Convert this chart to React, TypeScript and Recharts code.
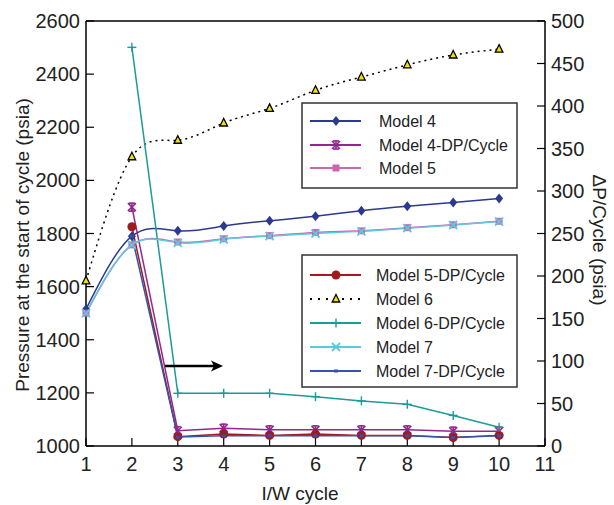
import React from 'react';
import { LineChart, Line, XAxis, YAxis, ReferenceLine } from 'recharts';

const cycles = [1, 2, 3, 4, 5, 6, 7, 8, 9, 10];
const model4 = [1515, 1790, 1810, 1828, 1848, 1865, 1886, 1903, 1917, 1932];
const model4DP = [null, 281, 18, 21, 19, 19, 19, 19, 17.5, 17.5];
const model5 = [1500, 1757, 1768, 1780, 1792, 1804, 1810, 1822, 1833, 1846];
const model5DP = [null, 258, 11, 14, 12.5, 14, 12.5, 12.5, 10, 12.5];
const model6 = [1622, 2089, 2151, 2216, 2271, 2339, 2389, 2435, 2472, 2494];
const model6DP = [null, 469, 62, 62, 62, 58, 53, 49, 36, 22];
const model7 = [1500, 1757, 1765, 1778, 1790, 1800, 1808, 1820, 1832, 1845];
const model7DP = [null, 247, 10.5, 12, 12, 12, 12, 12, 10, 12];

const xTicks = [1, 2, 3, 4, 5, 6, 7, 8, 9, 10, 11];
const leftTicks = [1000, 1200, 1400, 1600, 1800, 2000, 2200, 2400, 2600];
const rightTicks = [0, 50, 100, 150, 200, 250, 300, 350, 400, 450, 500];

type Marker = 'diamond' | 'asterisk' | 'square' | 'circle' | 'triangle' | 'plus' | 'x' | 'dash';
type SeriesDef = {
  key: string;
  name: string;
  values: (number | null)[];
  axis: 'left' | 'right';
  color: string;
  marker: Marker;
  dash?: string;
  curve: 'natural' | 'linear';
};

const series: SeriesDef[] = [
  { key: 'm4', name: 'Model 4', values: model4, axis: 'left', color: '#2b3a8f', marker: 'diamond', curve: 'natural' },
  { key: 'm4dp', name: 'Model 4-DP/Cycle', values: model4DP, axis: 'right', color: '#93278f', marker: 'asterisk', curve: 'linear' },
  { key: 'm5', name: 'Model 5', values: model5, axis: 'left', color: '#cc66b0', marker: 'square', curve: 'natural' },
  { key: 'm5dp', name: 'Model 5-DP/Cycle', values: model5DP, axis: 'right', color: '#9e1b20', marker: 'circle', curve: 'linear' },
  { key: 'm6', name: 'Model 6', values: model6, axis: 'left', color: '#000000', marker: 'triangle', dash: '2 4', curve: 'natural' },
  { key: 'm6dp', name: 'Model 6-DP/Cycle', values: model6DP, axis: 'right', color: '#1a9c98', marker: 'plus', curve: 'linear' },
  { key: 'm7', name: 'Model 7', values: model7, axis: 'left', color: '#5ec8de', marker: 'x', curve: 'natural' },
  { key: 'm7dp', name: 'Model 7-DP/Cycle', values: model7DP, axis: 'right', color: '#3553a8', marker: 'dash', curve: 'linear' },
];

const legend1 = ['m4', 'm4dp', 'm5'];
const legend2 = ['m5dp', 'm6', 'm6dp', 'm7', 'm7dp'];

const data = cycles.map((c, i) => {
  const row: Record<string, number | null> = { cycle: c };
  series.forEach((s) => {
    row[s.key] = s.values[i];
  });
  return row;
});

function renderMarker(marker: Marker, cx: number, cy: number, color: string) {
  switch (marker) {
    case 'diamond':
      return <polygon points={`${cx},${cy - 5} ${cx + 4},${cy} ${cx},${cy + 5} ${cx - 4},${cy}`} fill={color} />;
    case 'asterisk':
      return (
        <g stroke={color} strokeWidth={1.6}>
          <line x1={cx - 4} y1={cy - 4} x2={cx + 4} y2={cy + 4} />
          <line x1={cx - 4} y1={cy + 4} x2={cx + 4} y2={cy - 4} />
          <line x1={cx} y1={cy - 4.5} x2={cx} y2={cy + 4.5} />
          <line x1={cx - 3} y1={cy - 4} x2={cx + 3} y2={cy - 4} />
          <line x1={cx - 3} y1={cy + 4} x2={cx + 3} y2={cy + 4} />
        </g>
      );
    case 'square':
      return <rect x={cx - 3.5} y={cy - 3.5} width={7} height={7} fill={color} />;
    case 'circle':
      return <circle cx={cx} cy={cy} r={4.5} fill={color} />;
    case 'triangle':
      return (
        <polygon
          points={`${cx},${cy - 4.5} ${cx + 3.8},${cy + 3} ${cx - 3.8},${cy + 3}`}
          fill="#f2e200"
          stroke="#000"
          strokeWidth={1.3}
        />
      );
    case 'plus':
      return (
        <g stroke={color} strokeWidth={1.4}>
          <line x1={cx - 4.5} y1={cy} x2={cx + 4.5} y2={cy} />
          <line x1={cx} y1={cy - 4.5} x2={cx} y2={cy + 4.5} />
        </g>
      );
    case 'x':
      return (
        <g stroke={color} strokeWidth={1.8}>
          <line x1={cx - 4} y1={cy - 4} x2={cx + 4} y2={cy + 4} />
          <line x1={cx - 4} y1={cy + 4} x2={cx + 4} y2={cy - 4} />
        </g>
      );
    case 'dash':
      return <rect x={cx - 2} y={cy - 1.5} width={4} height={3} fill={color} />;
  }
  return null;
}

const makeDot = (s: SeriesDef) => (p: any) => {
  const { cx, cy, value, index } = p;
  if (cx == null || cy == null || value == null || (Array.isArray(value) && value[1] == null)) {
    return <g key={`${s.key}-${index}`} />;
  }
  return <g key={`${s.key}-${index}`}>{renderMarker(s.marker, cx, cy, s.color)}</g>;
};

const FONT = '"Liberation Sans", Arial, Helvetica, sans-serif';

function LegendBox({ x, y, w, h, keys, rowYs, textX }: { x: number; y: number; w: number; h: number; keys: string[]; rowYs: number[]; textX: number }) {
  return (
    <g>
      <rect x={x} y={y} width={w} height={h} fill="#fff" stroke="#333" strokeWidth={1.5} />
      {keys.map((k, i) => {
        const s = series.find((d) => d.key === k)!;
        const ry = rowYs[i];
        return (
          <g key={k}>
            <line x1={x + 8} y1={ry} x2={x + 59} y2={ry} stroke={s.color} strokeWidth={2} strokeDasharray={s.dash ? '2 6' : undefined} />
            {renderMarker(s.marker, x + 34, ry, s.color)}
            <text x={textX} y={ry} dy="0.35em" fontSize={16} fill="#222" fontFamily={FONT}>
              {s.name}
            </text>
          </g>
        );
      })}
    </g>
  );
}

export default function App() {
  return (
    <div style={{ position: 'absolute', left: 0, top: 0, width: 614, height: 505, background: '#fff', fontFamily: FONT }}>
      <LineChart width={614} height={505} data={data} margin={{ top: 21, right: 14, bottom: 19, left: 26 }}>
        <XAxis
          dataKey="cycle"
          type="number"
          domain={[1, 11]}
          ticks={xTicks}
          height={40}
          tickSize={-8}
          tickMargin={19}
          axisLine={{ stroke: '#000', strokeWidth: 1.5 }}
          tickLine={{ stroke: '#000', strokeWidth: 1.2 }}
          tick={{ fill: '#222', fontSize: 20, fontFamily: FONT }}
          interval={0}
        />
        <YAxis
          yAxisId="left"
          orientation="left"
          domain={[1000, 2600]}
          ticks={leftTicks}
          width={60}
          tickSize={-8}
          tickMargin={14}
          axisLine={{ stroke: '#000', strokeWidth: 1.5 }}
          tickLine={{ stroke: '#000', strokeWidth: 1.2 }}
          tick={{ fill: '#222', fontSize: 20, fontFamily: FONT }}
          interval={0}
        />
        <YAxis
          yAxisId="right"
          orientation="right"
          domain={[0, 500]}
          ticks={rightTicks}
          width={55}
          tickSize={-8}
          tickMargin={14}
          axisLine={{ stroke: '#000', strokeWidth: 1.5 }}
          tickLine={{ stroke: '#000', strokeWidth: 1.2 }}
          tick={{ fill: '#222', fontSize: 20, fontFamily: FONT, textAnchor: 'start' }}
          interval={0}
        />
        <ReferenceLine yAxisId="left" y={2600} stroke="#000" strokeWidth={1.5} />
        {series.map((s) => (
          <Line
            key={s.key}
            yAxisId={s.axis}
            dataKey={s.key}
            name={s.name}
            type={s.curve}
            stroke={s.color}
            strokeWidth={1.5}
            strokeDasharray={s.dash}
            dot={makeDot(s)}
            activeDot={false}
            isAnimationActive={false}
          />
        ))}
      </LineChart>
      <svg width={614} height={505} style={{ position: 'absolute', left: 0, top: 0, pointerEvents: 'none' }}>
        <LegendBox x={302} y={103} w={215} h={85} keys={legend1} rowYs={[121, 145, 168]} textX={379} />
        <LegendBox x={302} y={255} w={215} h={132} keys={legend2} rowYs={[275, 299, 323, 347, 371]} textX={376} />
        <line x1={165} y1={366} x2={216} y2={366} stroke="#000" strokeWidth={2.5} />
        <polygon points="211,360.5 223,366 211,371.5 214,366" fill="#000" />
        <text
          x={0}
          y={0}
          transform="translate(22,245) rotate(-90)"
          textAnchor="middle"
          dy="0.35em"
          fontSize={19}
          fill="#222"
          fontFamily={FONT}
        >
          Pressure at the start of cycle (psia)
        </text>
        <text
          x={0}
          y={0}
          transform="translate(600,240) rotate(90)"
          textAnchor="middle"
          dy="0.35em"
          fontSize={19}
          fill="#222"
          fontFamily={FONT}
        >
          ΔP/Cycle (psia)
        </text>
        <text x={300} y={493} textAnchor="middle" dy="0.35em" fontSize={19} fill="#222" fontFamily={FONT}>
          I/W cycle
        </text>
      </svg>
    </div>
  );
}
